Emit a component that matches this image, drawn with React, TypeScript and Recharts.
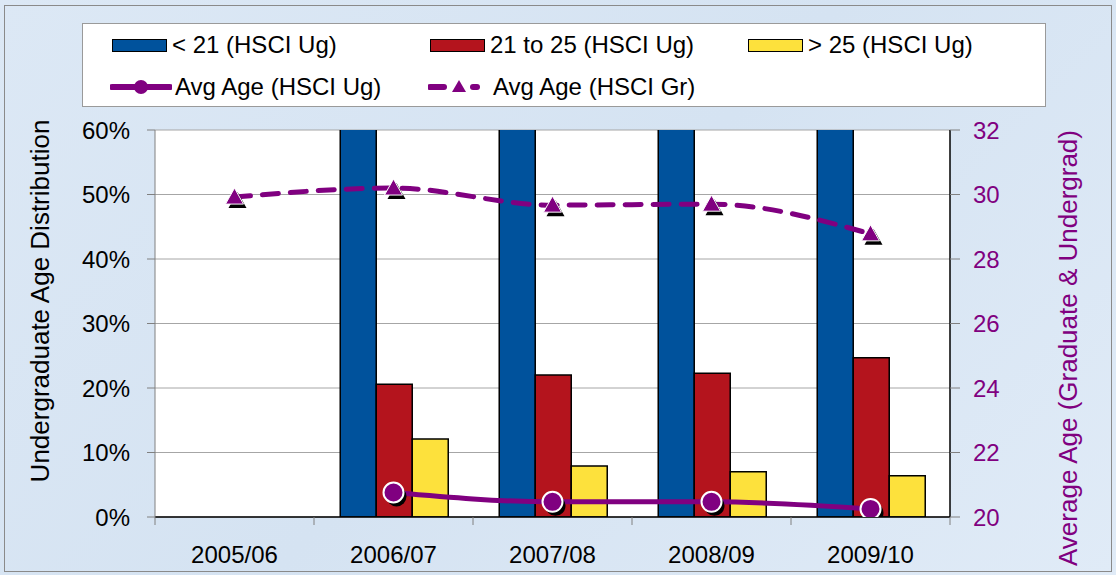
import React from 'react';
import { ComposedChart, Bar, Line, XAxis, YAxis, CartesianGrid, Legend } from 'recharts';

const categories = ['2005/06', '2006/07', '2007/08', '2008/09', '2009/10'];
const under21 = [null, 0.673, 0.701, 0.707, 0.689];
const age21to25 = [null, 0.206, 0.220, 0.223, 0.247];
const over25 = [null, 0.121, 0.079, 0.070, 0.064];
const avgAgeUg = [null, 20.76, 20.47, 20.47, 20.25];
const avgAgeGr = [29.92, 30.2, 29.67, 29.7, 28.78];
const leftTicks = [0, 0.1, 0.2, 0.3, 0.4, 0.5, 0.6];
const rightTicks = [20, 22, 24, 26, 28, 30, 32];

const data = categories.map((cat, i) => ({
  cat,
  under21: under21[i],
  age21to25: age21to25[i],
  over25: over25[i],
  avgUg: avgAgeUg[i],
  avgGr: avgAgeGr[i],
}));

const FONT = '"Liberation Sans", Arial, sans-serif';
const PURPLE = '#800080';
const BLUE = '#00529C';
const RED = '#B4141D';
const YELLOW = '#FDE13C';
const FS = 24;
const TITLE_FS = 26;

const CircleDot = (props: any) => {
  const { cx, cy, value } = props;
  if (value == null || cx == null || cy == null) return <g />;
  return (
    <g>
      <circle cx={cx + 3} cy={cy + 4} r={10} fill="#000" />
      <circle cx={cx} cy={cy} r={10} fill={PURPLE} stroke="#fff" strokeWidth={2} />
    </g>
  );
};

const triPts = (cx: number, cy: number) => `${cx},${cy - 9} ${cx + 9},${cy + 7} ${cx - 9},${cy + 7}`;

const TriDot = (props: any) => {
  const { cx, cy, value } = props;
  if (value == null || cx == null || cy == null) return <g />;
  return (
    <g>
      <polygon points={triPts(cx + 3, cy + 4)} fill="#000" />
      <polygon points={triPts(cx, cy)} fill={PURPLE} stroke="#fff" strokeWidth={1} />
    </g>
  );
};

const XTick = (props: any) => {
  const { x, y, payload, index } = props;
  const half = payload && payload.offset ? payload.offset : 79.5;
  const y0 = y - 29;
  return (
    <g>
      <line x1={x - half} x2={x - half} y1={y0} y2={y0 + 8} stroke="#808080" />
      {index === categories.length - 1 && (
        <line x1={x + half} x2={x + half} y1={y0} y2={y0 + 8} stroke="#808080" />
      )}
      <text x={x} y={y} dy="0.71em" textAnchor="middle" fill="#000" fontSize={FS} fontFamily={FONT}>
        {payload.value}
      </text>
    </g>
  );
};

const Swatch = ({ color }: { color: string }) => (
  <div style={{ width: 53, height: 11, background: color, border: '1.5px solid #000', marginRight: 5 }} />
);

const LineIcon = ({ dashed }: { dashed: boolean }) => (
  <svg width={62} height={20} style={{ marginRight: 3 }}>
    {dashed ? (
      <g>
        <line x1={2} x2={16} y1={10} y2={10} stroke={PURPLE} strokeWidth={6} strokeLinecap="round" />
        <polygon points="31,3 38,15 24,15" fill={PURPLE} />
        <line x1={45} x2={49} y1={10} y2={10} stroke={PURPLE} strokeWidth={6} strokeLinecap="round" />
      </g>
    ) : (
      <g>
        <line x1={2} x2={60} y1={10} y2={10} stroke={PURPLE} strokeWidth={6} strokeLinecap="round" />
        <circle cx={31} cy={10} r={7} fill={PURPLE} />
      </g>
    )}
  </svg>
);

const LegendContent = () => {
  const item = (icon: React.ReactNode, label: string) => (
    <div style={{ width: 318, display: 'flex', alignItems: 'center' }}>
      {icon}
      <span>{label}</span>
    </div>
  );
  return (
    <div
      style={{
        width: 962,
        height: 82,
        background: '#fff',
        border: '1px solid #9a9a9a',
        fontFamily: FONT,
        fontSize: FS,
        color: '#000',
        position: 'relative',
      }}
    >
      <div style={{ position: 'absolute', left: 29, top: 7, display: 'flex', height: 28, alignItems: 'center' }}>
        {item(<Swatch color={BLUE} />, '< 21 (HSCI Ug)')}
        {item(<Swatch color={RED} />, '21 to 25 (HSCI Ug)')}
        {item(<Swatch color={YELLOW} />, '> 25 (HSCI Ug)')}
      </div>
      <div style={{ position: 'absolute', left: 27, top: 49, display: 'flex', height: 28, alignItems: 'center' }}>
        {item(<LineIcon dashed={false} />, 'Avg Age (HSCI Ug)')}
        {item(<LineIcon dashed={true} />, 'Avg Age (HSCI Gr)')}
      </div>
    </div>
  );
};

export default function App() {
  return (
    <div
      style={{
        position: 'absolute',
        left: 0,
        top: 0,
        width: 1116,
        height: 575,
        background: 'linear-gradient(135deg, #dce8f5 0%, #d5e3f2 50%, #e0ebf7 100%)',
        fontFamily: FONT,
      }}
    >
      <div
        style={{
          position: 'absolute',
          left: 4,
          top: 5,
          width: 1106,
          height: 565,
          border: '1px solid #8a8a8a',
        }}
      />
      <ComposedChart
        width={1116}
        height={575}
        data={data}
        margin={{ top: 130, right: 66, bottom: 8, left: 55 }}
        barCategoryGap="16.5%"
        barGap={0}
        style={{ position: 'absolute', left: 0, top: 0 }}
      >
        <CartesianGrid yAxisId="left" vertical={false} stroke="#a6a6a6" fill="#ffffff" fillOpacity={1} />
        <XAxis
          dataKey="cat"
          height={50}
          tickLine={false}
          tickSize={8}
          tickMargin={21}
          axisLine={{ stroke: '#000', strokeWidth: 1.5 }}
          tick={<XTick />}
          interval={0}
        />
        <YAxis
          yAxisId="left"
          width={100}
          domain={[0, 0.6]}
          ticks={leftTicks}
          allowDataOverflow
          tickFormatter={(v: number) => `${Math.round(v * 100)}%`}
          tick={{ fill: '#000', fontSize: FS, fontFamily: FONT }}
          tickSize={8}
          tickMargin={17}
          tickLine={{ stroke: '#808080' }}
          axisLine={{ stroke: '#808080' }}
          label={{
            content: (p: any) => {
              const vb = p.viewBox;
              const cx = vb.x - 15;
              const cy = 301;
              return (
                <text
                  x={cx}
                  y={cy}
                  transform={`rotate(-90, ${cx}, ${cy})`}
                  textAnchor="middle"
                  dominantBaseline="central"
                  fontSize={TITLE_FS}
                  fontFamily={FONT}
                  fill="#000"
                >
                  Undergraduate Age Distribution
                </text>
              );
            },
          }}
        />
        <YAxis
          yAxisId="right"
          orientation="right"
          width={100}
          domain={[20, 32]}
          ticks={rightTicks}
          allowDataOverflow
          tick={{ fill: PURPLE, fontSize: FS, fontFamily: FONT }}
          tickSize={10}
          tickMargin={13}
          tickLine={{ stroke: '#808080' }}
          axisLine={{ stroke: '#000', strokeWidth: 1.5 }}
          label={{
            content: (p: any) => {
              const vb = p.viewBox;
              const cx = vb.x + 118;
              const cy = 348;
              return (
                <text
                  x={cx}
                  y={cy}
                  transform={`rotate(-90, ${cx}, ${cy})`}
                  textAnchor="middle"
                  dominantBaseline="central"
                  fontSize={TITLE_FS}
                  fontFamily={FONT}
                  fill={PURPLE}
                >
                  Average Age (Graduate &amp; Undergrad)
                </text>
              );
            },
          }}
        />
        <Legend
          layout="horizontal"
          verticalAlign="middle"
          align="center"
          content={<LegendContent />}
          wrapperStyle={{ left: 82, top: 23, width: 964, height: 84 }}
        />
        <Bar yAxisId="left" dataKey="under21" name="< 21 (HSCI Ug)" fill={BLUE} stroke="#000" strokeWidth={1.5} isAnimationActive={false} />
        <Bar yAxisId="left" dataKey="age21to25" name="21 to 25 (HSCI Ug)" fill={RED} stroke="#000" strokeWidth={1.5} isAnimationActive={false} />
        <Bar yAxisId="left" dataKey="over25" name="> 25 (HSCI Ug)" fill={YELLOW} stroke="#000" strokeWidth={1.5} isAnimationActive={false} />
        <Line
          yAxisId="right"
          dataKey="avgUg"
          name="Avg Age (HSCI Ug)"
          type="monotone"
          stroke={PURPLE}
          strokeWidth={5}
          dot={<CircleDot />}
          activeDot={false}
          isAnimationActive={false}
        />
        <Line
          yAxisId="right"
          dataKey="avgGr"
          name="Avg Age (HSCI Gr)"
          type="monotone"
          stroke={PURPLE}
          strokeWidth={5}
          strokeDasharray="16 12"
          strokeLinecap="round"
          dot={<TriDot />}
          activeDot={false}
          isAnimationActive={false}
        />
      </ComposedChart>
    </div>
  );
}
